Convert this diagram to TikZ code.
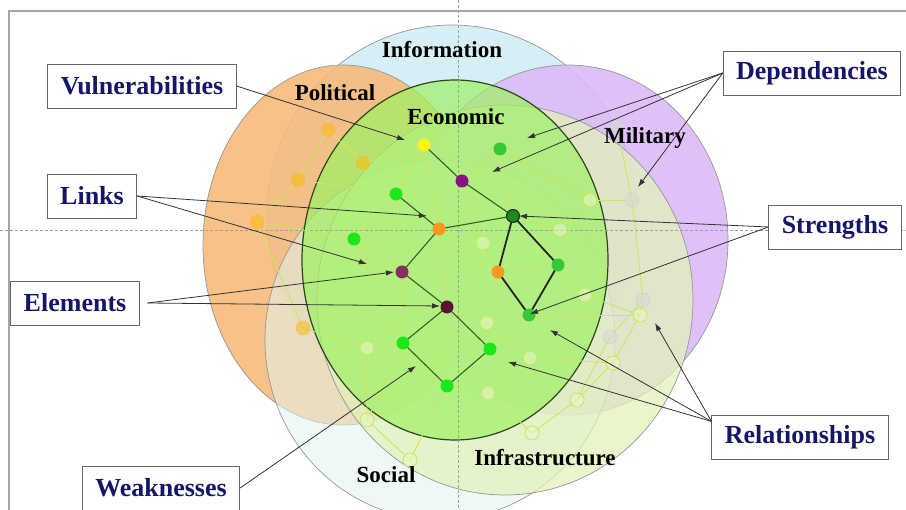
\documentclass[tikz,border=0pt]{standalone}
\usepackage{fontspec}
\setmainfont{Liberation Serif}
\usetikzlibrary{arrows.meta}

\definecolor{infoblue}{RGB}{214,238,245}
\definecolor{polorange}{RGB}{246,186,122}
\definecolor{milpurple}{RGB}{220,186,248}
\definecolor{infrayellow}{RGB}{226,241,186}
\definecolor{socialcyan}{RGB}{224,244,240}
\definecolor{econgreen}{RGB}{158,242,100}
\definecolor{econline}{RGB}{45,70,30}
\definecolor{ringgray}{RGB}{150,150,150}
\definecolor{linkgreen}{RGB}{55,95,35}
\definecolor{fainty}{RGB}{200,232,100}
\definecolor{labelnavy}{RGB}{22,22,105}
\definecolor{nyellow}{RGB}{250,245,20}
\definecolor{npurple}{RGB}{130,20,130}
\definecolor{nplum}{RGB}{140,45,95}
\definecolor{ndark}{RGB}{90,20,50}
\definecolor{norange}{RGB}{255,150,30}
\definecolor{ngreen}{RGB}{25,232,25}
\definecolor{nmid}{RGB}{55,200,55}
\definecolor{ndeep}{RGB}{30,135,30}

\tikzset{
  ringarea/.style={draw=ringgray, line width=0.7pt},
  boxlabel/.style={draw=black!60, line width=0.8pt, fill=white, text=labelnavy,
    font=\fontsize{26}{26}\selectfont\bfseries, inner xsep=13pt, inner ysep=0pt, minimum height=44pt},
  ringlabel/.style={font=\fontsize{23}{23}\selectfont\bfseries},
  pointer/.style={draw=black!80, line width=0.8pt, -{Latex[length=8pt,width=5.5pt]}},
  faint/.style={draw=fainty, line width=0.9pt},
  link/.style={draw=linkgreen, line width=1.1pt},
  strong/.style={draw=black!85, line width=1.8pt},
}

\begin{document}
\begin{tikzpicture}[x=1pt,y=-1pt]
    \useasboundingbox (0,0) rectangle (906,510);

    % Frame
    \draw[gray!70, line width=1.5pt] (9,510) -- (9,11) -- (906,11);

    % Domains
    \coordinate (info) at (452,215); \coordinate (pol) at (343,245); \coordinate (mil) at (568,240);
    \coordinate (soc) at (440,340); \coordinate (infra) at (505,300); \coordinate (econ) at (455,260);

    \path[ringarea, fill=infoblue] (info) ellipse [x radius=185pt, y radius=190pt];
    \path[ringarea, fill=polorange, fill opacity=0.9] (pol) ellipse [x radius=140pt, y radius=180pt];
    \path[ringarea, fill=milpurple, fill opacity=0.9] (mil) ellipse [x radius=160pt, y radius=175pt];
    \path[ringarea, fill=socialcyan, fill opacity=0.55] (soc) ellipse [x radius=175pt, y radius=180pt];
    \path[ringarea, fill=infrayellow, fill opacity=0.75] (infra) ellipse [x radius=188pt, y radius=195pt];
    \path[draw=econline, line width=1.2pt, fill=econgreen, fill opacity=0.7] (econ) ellipse [x radius=153pt, y radius=180pt];

    % Axes
    \draw[gray!75, line width=0.6pt, dash pattern=on 3pt off 2pt] (0,230) -- (906,230);
    \draw[gray!75, line width=0.6pt, dash pattern=on 3pt off 2pt] (458,0) -- (458,510);

    % Background network
    \coordinate (pa) at (328,130); \coordinate (pb) at (298,180); \coordinate (pc) at (257,222);
    \coordinate (pd) at (363,163); \coordinate (pe) at (303,328);
    \coordinate (sa) at (367,348); \coordinate (sb) at (367,420); \coordinate (sc) at (410,460);
    \coordinate (ia) at (640,315); \coordinate (ib) at (613,363); \coordinate (ic) at (577,400); \coordinate (id) at (532,433);
    \coordinate (ma) at (632,200); \coordinate (mb) at (617,127); \coordinate (mc) at (643,300); \coordinate (md) at (610,337);
    \coordinate (ea) at (487,323); \coordinate (eb) at (530,358); \coordinate (ec) at (488,393);
    \coordinate (ed) at (483,243); \coordinate (ee) at (560,230); \coordinate (ef) at (590,200); \coordinate (eg) at (585,295);

    % Main network
    \coordinate (y) at (424,145); \coordinate (p1) at (462,181); \coordinate (g1) at (500,149);
    \coordinate (g2) at (396,194); \coordinate (o1) at (439,229); \coordinate (d1) at (513,216);
    \coordinate (g3) at (354,239); \coordinate (p2) at (402,272); \coordinate (o2) at (498,272);
    \coordinate (g4) at (558,265); \coordinate (p3) at (447,307); \coordinate (g5) at (403,343);
    \coordinate (g6) at (490,349); \coordinate (g7) at (447,386); \coordinate (d2) at (529,315);

    \draw[faint] (pa) -- (pb) -- (pc) -- (g3); \draw[faint] (pa) -- (pd) -- (y); \draw[faint] (pb) -- (g2);
    \draw[faint] (pc) -- (pe) -- (sa);
    \draw[faint] (sa) -- (sb) -- (sc) -- (g7); \draw[faint] (sa) -- (g5); \draw[faint] (sb) -- (g5);
    \draw[faint] (ia) -- (ib) -- (ic) -- (id) -- (ec); \draw[faint] (ia) -- (d2); \draw[faint] (ib) -- (eb);
    \draw[faint] (mb) -- (ma) -- (mc) -- (md) -- (ic); \draw[faint] (ma) -- (ef); \draw[faint] (mc) -- (ia);
    \draw[faint] (ea) -- (eb) -- (ec) -- (g7); \draw[faint] (ea) -- (g6);
    \draw[faint] (ed) -- (o2); \draw[faint] (ed) -- (p1); \draw[faint] (ee) -- (ef) -- (g1);
    \draw[faint] (ee) -- (d1); \draw[faint] (eg) -- (g4); \draw[faint] (eg) -- (ia);
    \draw[faint] (y) -- (o1) -- (p3); \draw[faint] (y) -- (g2); \draw[faint] (g1) -- (d1); \draw[faint] (p1) -- (g1);
    \draw[faint] (g2) -- (g3) -- (p2) -- (g5); \draw[faint] (p3) -- (g7); \draw[faint] (g6) -- (d2);
    \draw[faint] (o2) -- (g4); \draw[faint] (o1) -- (o2); \draw[faint] (g3) -- (g5);

    \foreach \p in {pa,pb,pc,pd,pe} \filldraw[draw=orange!60, fill=orange!55!yellow, fill opacity=0.5] (\p) circle (7pt);
    \foreach \p in {ma,mb,mc,md} \filldraw[draw=gray!40, fill=gray!30, fill opacity=0.6] (\p) circle (7pt);
    \foreach \p in {sa,sb,sc,ia,ib,ic,id,ea,eb,ec,ed,ee,ef,eg} \filldraw[draw=fainty, line width=0.9pt, fill=fainty!30, fill opacity=0.5] (\p) circle (7pt);

    \draw[link] (y) -- (p1) -- (d1); \draw[link] (g2) -- (o1) -- (d1); \draw[link] (o1) -- (p2) -- (p3);
    \draw[link] (p3) -- (g5) -- (g7) -- (g6) -- (p3);
    \draw[strong] (d1) -- (o2) -- (d2) -- (g4) -- cycle;

    \foreach \p/\c in {y/nyellow, p1/npurple, g1/nmid, g2/ngreen, o1/norange, d1/ndeep, g3/ngreen, p2/nplum,
      o2/norange, g4/nmid, p3/ndark, g5/ngreen, g6/ngreen, g7/ngreen, d2/nmid} \fill[\c] (\p) circle (6.5pt);
    \draw[black!85, line width=1pt] (d1) circle (6.5pt);

    % Domain names
    \node[ringlabel] at (442,50) {Information};
    \node[ringlabel] at (335,93) {Political};
    \node[ringlabel] at (456,117) {Economic};
    \node[ringlabel] at (645,138) {Military};
    \node[ringlabel] at (545,458) {Infrastructure};
    \node[ringlabel] at (386,475) {Social};

    % Callouts
    \node[boxlabel] (vul) at (142,86) {Vulnerabilities};
    \node[boxlabel] (lnk) at (92,196) {Links};
    \node[boxlabel] (elm) at (75,303) {Elements};
    \node[boxlabel] (wks) at (161,488) {Weaknesses};
    \node[boxlabel] (dep) at (812,73) {Dependencies};
    \node[boxlabel] (str) at (835,227) {Strengths};
    \node[boxlabel] (rel) at (800,437) {Relationships};

    \coordinate (tv) at (405,140);
    \coordinate (tl1) at (427,216); \coordinate (tl2) at (367,264);
    \coordinate (te1) at (394,272); \coordinate (te2) at (440,306);
    \coordinate (tw) at (416,366);
    \coordinate (td1) at (527,138); \coordinate (td2) at (492,172); \coordinate (td3) at (638,187);
    \coordinate (ts1) at (519,216); \coordinate (ts2) at (530,314);
    \coordinate (tr1) at (508,362); \coordinate (tr2) at (550,330); \coordinate (tr3) at (655,323);

    \draw[pointer] (vul.east) -- (tv);
    \foreach \t in {tl1,tl2} \draw[pointer] (lnk.east) -- (\t);
    \foreach \t in {te1,te2} \draw[pointer] ([xshift=8pt]elm.east) -- (\t);
    \draw[pointer] (wks.east) -- (tw);
    \foreach \t in {td1,td2,td3} \draw[pointer] (dep.west) -- (\t);
    \foreach \t in {ts1,ts2} \draw[pointer] (str.west) -- (\t);
    \foreach \t in {tr1,tr2,tr3} \draw[pointer] (rel.170) -- (\t);
\end{tikzpicture}
\end{document}
